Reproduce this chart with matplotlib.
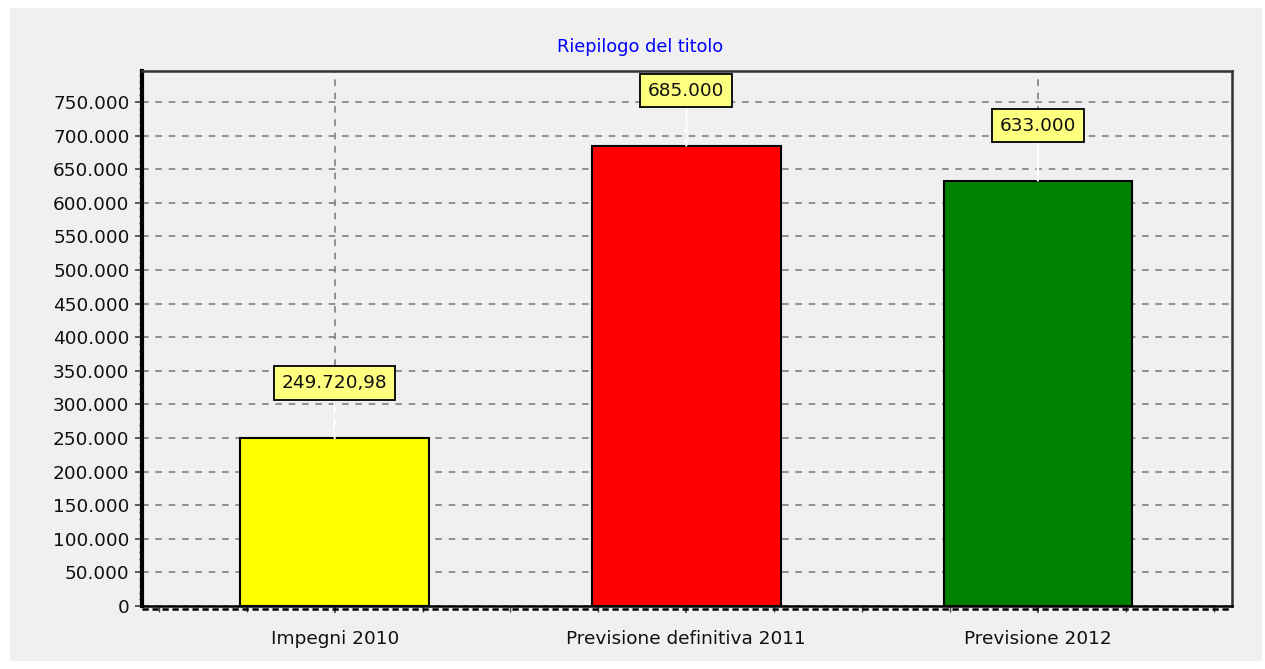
import matplotlib
matplotlib.use("Agg")
import matplotlib.pyplot as plt
from matplotlib.patches import Rectangle
from matplotlib.ticker import MultipleLocator, FuncFormatter
import matplotlib.transforms as mtransforms

categories = ["Impegni 2010", "Previsione definitiva 2011", "Previsione 2012"]
values = [249720.98, 685000, 633000]
value_labels = ["249.720,98", "685.000", "633.000"]
colors = ["#ffff00", "#ff0000", "#008000"]
title = "Riepilogo del titolo"

W, H = 1265, 669
fig = plt.figure(figsize=(W / 100, H / 100), dpi=100)
fig.patch.set_facecolor("white")
fig.patches.append(Rectangle((10 / W, 1 - 661 / H), (1262 - 10) / W, (661 - 8) / H,
                             transform=fig.transFigure, facecolor="#f0f0f0",
                             edgecolor="none", zorder=-10))

left, right, top, bottom = 142, 1232, 71, 606
ax = fig.add_axes([left / W, 1 - bottom / H, (right - left) / W, (bottom - top) / H])
ax.set_zorder(2)
ax.set_facecolor("#f0f0f0")

x = list(range(len(categories)))
bars = ax.bar(x, values, width=0.537, color=colors, edgecolor="black", linewidth=1.5, zorder=3)

ax.set_xlim(-0.548, 2.552)
ax.set_ylim(0, 796000)
ax.yaxis.set_major_locator(MultipleLocator(50000))
ax.yaxis.set_minor_locator(MultipleLocator(10000))
ax.xaxis.set_minor_locator(MultipleLocator(0.25))
ax.set_xticks(x)
ax.set_xticklabels(categories)

def fmt(v, pos):
    return f"{int(round(v)):,}".replace(",", ".")
ax.yaxis.set_major_formatter(FuncFormatter(fmt))

ax.grid(True, which="major", linestyle=(0, (4, 4)), color="#808080", linewidth=1.2, zorder=1)
ax.set_axisbelow(True)

for s in ["top", "right"]:
    ax.spines[s].set_color("#303030")
    ax.spines[s].set_linewidth(1.8)
ax.spines["left"].set_color("black")
ax.spines["left"].set_linewidth(3)
ax.spines["bottom"].set_color("black")
ax.spines["bottom"].set_linewidth(1.8)

ax.tick_params(axis="both", which="major", direction="out", length=5, width=1.2,
               color="#404040", labelcolor="#101010")
ax.tick_params(axis="y", which="major", labelsize=13.3, pad=4)
ax.tick_params(axis="x", which="major", labelsize=13.3, pad=12)
ax.tick_params(axis="y", which="minor", direction="out", length=2.5, width=1, color="#404040")
ax.tick_params(axis="x", which="minor", direction="out", length=4, width=1, color="#404040")

# dashed shadow under the bottom axis
off = mtransforms.offset_copy(ax.transAxes, fig=fig, x=0, y=-2.5, units="dots")
ax.plot([0, 1], [0, 0], transform=off, color="black", linewidth=1.8,
        linestyle=(0, (2.5, 1.5)), clip_on=False, zorder=5)

for xi, v, lab in zip(x, values, value_labels):
    ax.annotate(lab, xy=(xi, v), xytext=(0, 39.6), textcoords="offset points",
                ha="center", va="center", fontsize=13.3, color="#101010",
                bbox=dict(boxstyle="square,pad=0.42", facecolor="#ffff80",
                          edgecolor="black", linewidth=1.3),
                arrowprops=dict(arrowstyle="-", color="white", linewidth=1.6,
                                shrinkA=0, shrinkB=0),
                zorder=6)

fig.text(640 / W, 1 - 47 / H, title, ha="center", va="center",
         fontsize=12.8, color="#0000ff")

fig.savefig("out.png", dpi=100, facecolor=fig.get_facecolor())
